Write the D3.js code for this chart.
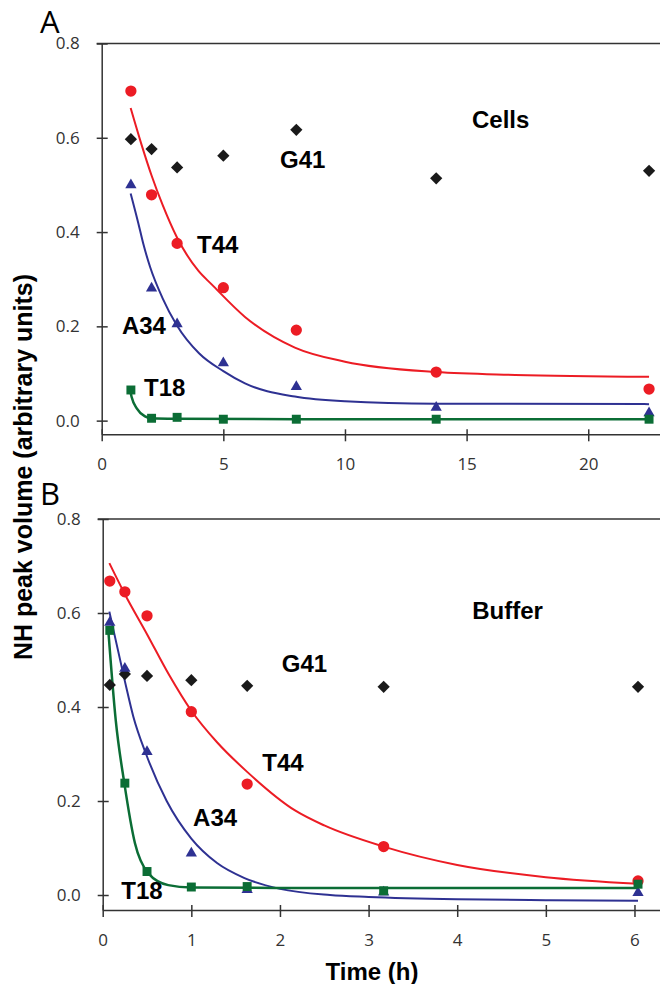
<!DOCTYPE html>
<html>
<head>
<meta charset="utf-8">
<script src="https://cdn.jsdelivr.net/npm/d3@7"></script>
<style>
  body { margin: 0; background: #fff; }
  .tick text { font-family: "Open Sans", sans-serif; font-size: 17px; fill: #333; }
  .lbl { font-family: "Liberation Sans", Arial, sans-serif; font-weight: bold; font-size: 24px; fill: #000; }
</style>
</head>
<body>
<script>
// ---- data ----
// panel A (cells), time in hours
const timeA = [1.2, 2.05, 3.1, 5.0, 8.0, 13.75, 22.5];
const g41A = [0.597, 0.576, 0.537, 0.562, 0.617, 0.514, 0.530];
const t44A = [0.699, 0.479, 0.376, 0.282, 0.192, 0.103, 0.067];
const a34A = [0.500, 0.281, 0.205, 0.122, 0.072, 0.028, 0.016];
const t18A = [0.065, 0.005, 0.007, 0.003, 0.003, 0.003, 0.003];

// fitted curves of panel A, [time, value]
const fitT44A = [[1.19,0.663],[1.64,0.585],[2.05,0.52],[2.5,0.458],[3.08,0.39],[3.97,0.318],[4.52,0.289],
  [5.89,0.22],[7.94,0.155],[10,0.125],[13.75,0.103],[17,0.097],[22.5,0.093]];
const fitA34A = [[1.19,0.482],[1.5,0.42],[1.71,0.375],[1.99,0.326],[2.5,0.26],[3.08,0.203],[4.0,0.143],
  [5.0,0.105],[5.89,0.079],[7.94,0.051],[10,0.041],[13.75,0.036],[22.5,0.035]];
const fitT18A = [[1.17,0.064],[1.23,0.05],[1.44,0.026],[1.78,0.009],[2.05,0.005],[3,0.004],[8,0.003],[22.5,0.003]];

// panel B (buffer)
const timeB = [0.08, 0.25, 0.5, 1.0, 1.63, 3.17, 6.04];
const g41B = [0.447, 0.470, 0.466, 0.457, 0.445, 0.443, 0.443];
const t44B = [0.668, 0.645, 0.594, 0.390, 0.236, 0.103, 0.030];
const a34B = [0.580, 0.482, 0.305, 0.089, 0.011, 0.006, 0.005];
const t18B = [0.563, 0.238, 0.050, 0.017, 0.018, 0.009, 0.023];

const fitT44B = [[0.075,0.706],[0.25,0.64],[0.5,0.555],[0.75,0.468],[1.0,0.392],[1.29,0.325],[1.63,0.262],
  [2.17,0.18],[2.5,0.148],[3.17,0.103],[4.0,0.064],[5.0,0.038],[6.04,0.024]];
const fitA34B = [[0.075,0.603],[0.25,0.455],[0.345,0.38],[0.489,0.30],[0.722,0.2],[1.0,0.12],[1.29,0.068],
  [1.6,0.036],[2.0,0.013],[2.565,0.0],[3.0,-0.004],[4.0,-0.009],[5.0,-0.011],[6.04,-0.012]];
const fitT18B = [[0.063,0.564],[0.147,0.372],[0.244,0.238],[0.364,0.11],[0.515,0.046],[0.74,0.021],
  [1.0,0.016],[2.0,0.015],[6.04,0.015]];

const yTicks = [0, 0.2, 0.4, 0.6, 0.8];
const xTicksA = [0, 5, 10, 15, 20];
const xTicksB = [0, 1, 2, 3, 4, 5, 6];

const colors = { g41: "#1a1a1a", t44: "#ec1c24", a34: "#2e3192", t18: "#0b6d35" };

const svg = d3.select("body")
  .append("svg")
  .attr("width", 660)
  .attr("height", 984);

function drawPanel(p) {
  const xScale = d3.scaleLinear(p.xDomain, [p.left, 660]);
  const yScale = d3.scaleLinear(p.yDomain, [p.bottom, p.top]);
  const g = svg.append("g");

  // top border line at 0.8
  g.append("line")
    .attr("x1", xScale(0) - 5).attr("x2", xScale.range()[1])
    .attr("y1", yScale(0.8)).attr("y2", yScale(0.8))
    .attr("stroke", "#333").attr("stroke-width", 1.5);

  const xAxis = g.append("g")
    .attr("transform", `translate(0,${p.bottom})`)
    .call(d3.axisBottom(xScale).tickValues(p.xTicks).tickFormat(d3.format("d"))
      .tickSize(7).tickSizeOuter(0).tickPadding(17));
  xAxis.selectAll(".tick line").attr("y1", -5);

  const yAxis = g.append("g")
    .attr("transform", `translate(${p.left},0)`)
    .call(d3.axisLeft(yScale).tickValues(yTicks).tickFormat(d3.format(".1f"))
      .tickSize(5).tickSizeOuter(0).tickPadding(17));
  yAxis.selectAll(".tick line").attr("x1", 6);

  g.selectAll(".domain, .tick line").attr("stroke", "#333").attr("stroke-width", 1.5);

  // fitted curves
  const line = d3.line()
    .x(d => xScale(d[0]))
    .y(d => yScale(d[1]))
    .curve(d3.curveMonotoneX);

  p.fits.forEach(f => {
    g.append("path")
      .datum(f.data)
      .attr("fill", "none")
      .attr("stroke", f.color)
      .attr("stroke-width", f.width)
      .attr("d", line);
  });

  // points
  p.series.forEach(s => {
    const sym = d3.symbol().type(s.type).size(s.size);
    g.selectAll(null)
      .data(s.values.map((v, i) => [p.time[i], v]))
      .join("path")
      .attr("d", sym)
      .attr("fill", s.color)
      .attr("transform", d => `translate(${xScale(d[0])},${yScale(d[1])})` + (s.rotate ? " rotate(45)" : ""));
  });

  // labels
  p.labels.forEach(l => {
    g.append("text")
      .attr("class", "lbl")
      .attr("x", xScale(l.t))
      .attr("y", yScale(l.v))
      .text(l.text);
  });

  g.append("text")
    .attr("x", 40)
    .attr("y", p.letterY)
    .style("font-family", "Open Sans, sans-serif")
    .style("font-size", "31px")
    .text(p.letter);
}

drawPanel({
  letter: "A", letterY: 33,
  left: 101.7, top: 43.5, bottom: 434.3,
  xDomain: [0, 22.95], yDomain: [-0.029, 0.8],
  xTicks: xTicksA, time: timeA,
  fits: [
    { data: fitT44A, color: colors.t44, width: 2 },
    { data: fitA34A, color: colors.a34, width: 2 },
    { data: fitT18A, color: colors.t18, width: 2.5 }
  ],
  series: [
    { values: g41A, color: colors.g41, type: d3.symbolSquare, size: 75, rotate: true },
    { values: t44A, color: colors.t44, type: d3.symbolCircle, size: 100 },
    { values: a34A, color: colors.a34, type: d3.symbolTriangle, size: 55 },
    { values: t18A, color: colors.t18, type: d3.symbolSquare, size: 80 }
  ],
  labels: [
    { text: "Cells", t: 15.22, v: 0.621 },
    { text: "G41", t: 7.33, v: 0.536 },
    { text: "T44", t: 3.92, v: 0.356 },
    { text: "A34", t: 0.83, v: 0.184 },
    { text: "T18", t: 1.74, v: 0.052 }
  ]
});

drawPanel({
  letter: "B", letterY: 505,
  left: 102.7, top: 519, bottom: 910,
  xDomain: [0, 6.288], yDomain: [-0.0319, 0.8],
  xTicks: xTicksB, time: timeB,
  fits: [
    { data: fitT44B, color: colors.t44, width: 2 },
    { data: fitA34B, color: colors.a34, width: 2 },
    { data: fitT18B, color: colors.t18, width: 2.5 }
  ],
  series: [
    { values: g41B, color: colors.g41, type: d3.symbolSquare, size: 75, rotate: true },
    { values: t44B, color: colors.t44, type: d3.symbolCircle, size: 100 },
    { values: a34B, color: colors.a34, type: d3.symbolTriangle, size: 55 },
    { values: t18B, color: colors.t18, type: d3.symbolSquare, size: 80 }
  ],
  labels: [
    { text: "Buffer", t: 4.17, v: 0.587 },
    { text: "G41", t: 2.02, v: 0.474 },
    { text: "T44", t: 1.80, v: 0.264 },
    { text: "A34", t: 1.02, v: 0.147 },
    { text: "T18", t: 0.21, v: -0.0085 }
  ]
});

// axis titles
svg.append("text")
  .attr("class", "lbl")
  .attr("text-anchor", "middle")
  .attr("x", 372)
  .attr("y", 980)
  .text("Time (h)");

svg.append("text")
  .attr("class", "lbl")
  .attr("text-anchor", "middle")
  .style("font-size", "25px")
  .attr("transform", "translate(32,467) rotate(-90)")
  .text("NH peak volume (arbitrary units)");
</script>
</body>
</html>
